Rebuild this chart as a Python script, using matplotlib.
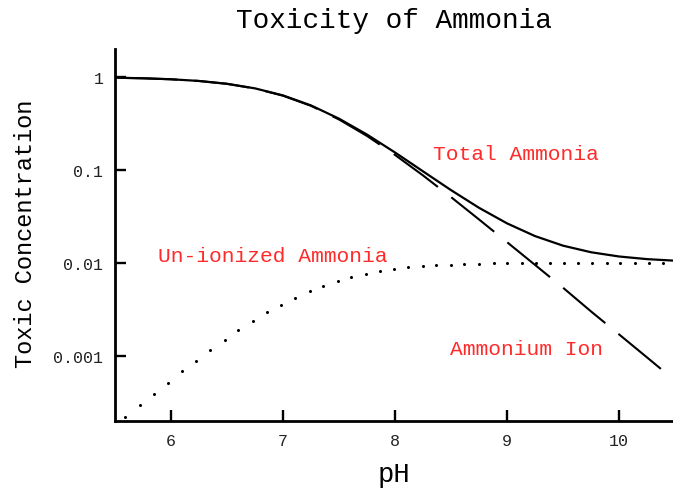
import matplotlib
matplotlib.use('Agg')
import matplotlib.pyplot as plt

plt.rcParams['lines.scale_dashes'] = False
FONT = ['Liberation Mono', 'DejaVu Sans Mono']
RED = '#ff2a2a'

# ---- data ----
ph_total = [5.5, 5.75, 6.0, 6.25, 6.5, 6.75, 7.0, 7.25, 7.5, 7.75, 8.0,
            8.25, 8.5, 8.75, 9.0, 9.25, 9.5, 9.75, 10.0, 10.25, 10.5]
total_ammonia = [0.982, 0.968, 0.945, 0.906, 0.845, 0.754, 0.633, 0.494, 0.356,
                 0.240, 0.154, 0.0965, 0.0606, 0.0391, 0.0266, 0.0194, 0.0153,
                 0.0130, 0.0117, 0.01096, 0.01054]

ph_ion = [5.5, 5.75, 6.0, 6.25, 6.5, 6.75, 7.0, 7.25, 7.5, 7.75, 8.0,
          8.25, 8.5, 8.75, 9.0, 9.25, 9.5, 9.75, 10.0, 10.25, 10.4]
ammonium_ion = [0.982, 0.968, 0.944, 0.905, 0.843, 0.751, 0.629, 0.489, 0.349,
                0.232, 0.145, 0.0872, 0.0510, 0.0293, 0.0167, 0.0095, 0.0054,
                0.0030, 0.0017, 0.00096, 0.00068]

ph_unionized = [5.59, 5.72, 5.85, 5.97, 6.10, 6.22, 6.35, 6.48, 6.60, 6.73,
                6.86, 6.98, 7.11, 7.24, 7.36, 7.49, 7.61, 7.74, 7.87, 7.99,
                8.12, 8.25, 8.37, 8.50, 8.62, 8.75, 8.88, 9.00, 9.13, 9.26,
                9.38, 9.51, 9.63, 9.76, 9.89, 10.01, 10.14, 10.27, 10.39]
unionized_ammonia = [2.20e-4, 2.93e-4, 3.89e-4, 5.12e-4, 6.78e-4, 8.75e-4,
                     1.14e-3, 1.49e-3, 1.88e-3, 2.35e-3, 2.93e-3, 3.55e-3,
                     4.22e-3, 4.94e-3, 5.64e-3, 6.38e-3, 7.00e-3, 7.67e-3,
                     8.23e-3, 8.64e-3, 8.91e-3, 9.13e-3, 9.36e-3, 9.55e-3,
                     9.67e-3, 9.75e-3, 9.84e-3, 9.91e-3, 9.93e-3, 9.95e-3,
                     9.97e-3, 9.98e-3, 9.99e-3, 1.0e-2, 1.0e-2, 1.0e-2,
                     1.0e-2, 1.0e-2, 1.0e-2]

x_ticks = [6, 7, 8, 9, 10]
y_ticks = [1, 0.1, 0.01, 0.001]
y_tick_labels = ['1', '0.1', '0.01', '0.001']

W, H = 673, 489
fig = plt.figure(figsize=(W / 100, H / 100), dpi=100)
ax = fig.add_axes([115 / W, (H - 421.7) / H, (W - 115) / W, (421.7 - 50) / H])

ax.plot(ph_total, total_ammonia, color='black', lw=1.6, solid_capstyle='butt')
ax.plot(ph_ion, ammonium_ion, color='black', lw=1.5,
        linestyle=(46.4, (39.6, 12.2)), dash_capstyle='butt')
ax.plot(ph_unionized, unionized_ammonia, linestyle='none', marker='o',
        markersize=2.2, color='black', markeredgewidth=0)

ax.set_yscale('log')
ax.set_xlim(5.5, 5.5 + 558 / 112)
ax.set_ylim(2e-4, 2)
ax.set_xticks(x_ticks)
ax.set_xticklabels([str(t) for t in x_ticks])
ax.set_yticks(y_ticks)
ax.set_yticklabels(y_tick_labels)
ax.minorticks_off()

for s in ['top', 'right']:
    ax.spines[s].set_visible(False)
for s in ['left', 'bottom']:
    ax.spines[s].set_linewidth(2.0)
ax.tick_params(direction='in', length=8, width=1.7, labelsize=12, color='black')
ax.tick_params(axis='x', pad=9)
ax.tick_params(axis='y', pad=8.3)
for lab in ax.get_xticklabels() + ax.get_yticklabels():
    lab.set_family(FONT)
    lab.set_color('#222222')

ax.text(8.339, 0.131, 'Total Ammonia', color=RED, fontsize=15.3,
        family=FONT, ha='left', va='baseline')
ax.text(5.880, 0.01042, 'Un-ionized Ammonia', color=RED, fontsize=15.3,
        family=FONT, ha='left', va='baseline')
ax.text(8.4875, 0.001033, 'Ammonium Ion', color=RED, fontsize=15.3,
        family=FONT, ha='left', va='baseline')

fig.text(394 / W, (H - 28.3) / H, 'Toxicity of Ammonia', fontsize=20,
         family=FONT, ha='center', va='baseline', color='black')
fig.text(394 / W, 6.5 / H, 'pH', fontsize=19.6, family=FONT,
         ha='center', va='baseline', color='black')
fig.text(31.7 / W, (H - 234) / H, 'Toxic Concentration', fontsize=17,
         family=FONT, ha='center', va='baseline', rotation=90,
         rotation_mode='anchor', color='black')

fig.savefig('out.png', dpi=100)
